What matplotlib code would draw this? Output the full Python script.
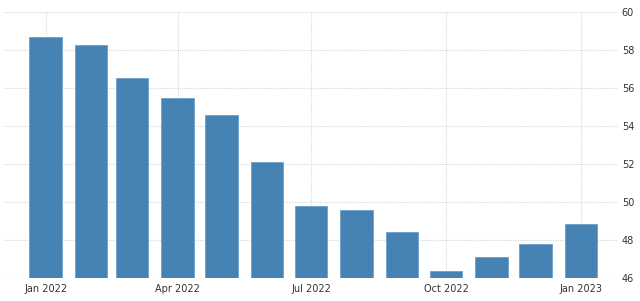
import datetime as dt
import matplotlib
matplotlib.use('Agg')
import matplotlib.pyplot as plt
import matplotlib.dates as mdates

months = [dt.date(2022, m, 1) for m in range(1, 13)] + [dt.date(2023, 1, 1)]
values = [58.7, 58.25, 56.55, 55.5, 54.6, 52.1, 49.8, 49.6, 48.45, 46.4, 47.1, 47.8, 48.85]
yticks = [46, 48, 50, 52, 54, 56, 58, 60]
xticks = [dt.date(2022, 1, 1), dt.date(2022, 4, 1), dt.date(2022, 7, 1),
          dt.date(2022, 10, 1), dt.date(2023, 1, 1)]

fig = plt.figure(figsize=(6.4, 3.01), dpi=100)
ax = fig.add_axes([0.007, 0.076, 0.958, 0.884])

ax.bar(months, [v - 46 for v in values], bottom=46, width=22,
       color='#4682b4', edgecolor='#6f9fc8', linewidth=0.6, zorder=3)

ax.set_ylim(46, 60)
ax.set_yticks(yticks)
ax.yaxis.tick_right()
ax.set_xlim(dt.date(2021, 12, 4), dt.date(2023, 1, 26))
ax.set_xticks(xticks)
ax.xaxis.set_major_formatter(mdates.DateFormatter('%b %Y'))

ax.grid(True, color='#d9d9d9', linestyle=(0, (1, 1)), linewidth=0.8, zorder=0)
for s in ax.spines.values():
    s.set_visible(False)
ax.tick_params(axis='both', length=0, labelsize=7, colors='#333333')
ax.tick_params(axis='y', pad=3)
ax.tick_params(axis='x', pad=4)

fig.savefig('out.png', dpi=100)
